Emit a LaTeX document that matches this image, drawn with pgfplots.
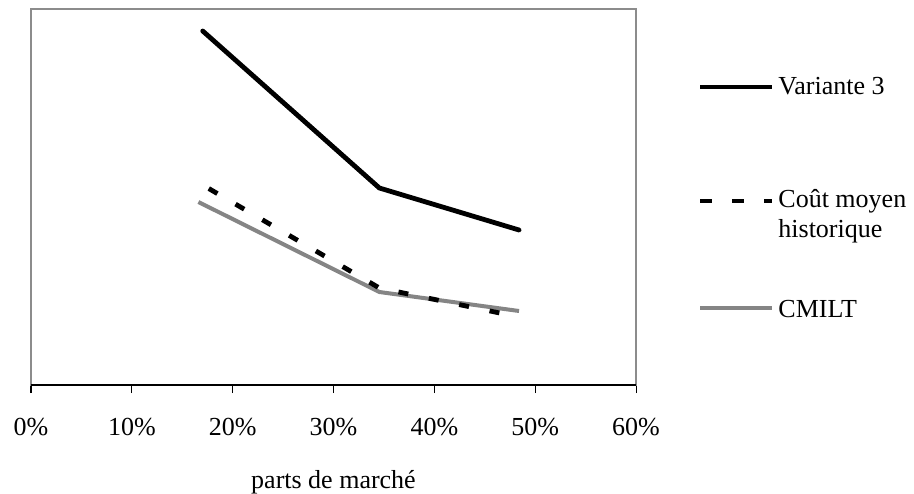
\documentclass[border=0pt]{standalone}
\usepackage{pgfplots}
\pgfplotsset{compat=1.18}
\usepackage{fontspec}
\setmainfont{Liberation Serif}
\definecolor{cmilt}{HTML}{858585}
\definecolor{boxgray}{HTML}{8C8C8C}
\begin{document}
\begin{tikzpicture}[font=\fontsize{13}{14.5}\selectfont]
\useasboundingbox (-15.5pt,-54pt) rectangle (441.5pt,192.5pt);
\begin{axis}[
  at={(0,0)}, anchor=south west,
  scale only axis, width=302.5pt, height=188pt,
  xmin=0, xmax=60, ymin=0, ymax=376,
  xtick={0,10,20,30,40,50,60},
  xticklabel={\pgfmathprintnumber{\tick}\%},
  /pgf/number format/assume math mode=true,
  ytick=\empty,
  xtick pos=bottom, tick align=outside,
  major tick length=4pt,
  tick style={black, line width=0.5pt},
  axis line style={boxgray, line width=0.6pt},
  xticklabel style={yshift=-9pt},
  xlabel={parts de marché},
  xlabel style={yshift=-10.5pt},
  clip=false,
]
\draw[black, line width=0.6pt] (rel axis cs:0,0) -- (rel axis cs:1,0);
\addplot[black, line width=2.4pt, line join=round, line cap=round] coordinates {(17.03,354) (34.55,197) (48.4,155)};
\addplot[cmilt, line width=2pt, line join=round] coordinates {(16.6,183) (34.55,93) (48.4,74)};
\addplot[black, line width=2.4pt, dash pattern=on 5pt off 10.5pt, dash phase=12pt] coordinates {(17.03,200) (34.55,97) (48.4,68)};
\end{axis}
% legend
\draw[black, line width=2.4pt] (334.5pt,149pt) -- (370.5pt,149pt);
\node[anchor=base west, inner sep=0pt] at (373.5pt,145pt) {Variante 3};
\draw[black, line width=2.4pt, dash pattern=on 6pt off 10pt] (334.5pt,92pt) -- (370.5pt,92pt);
\node[anchor=base west, inner sep=0pt] at (373.5pt,89pt) {Coût moyen};
\node[anchor=base west, inner sep=0pt] at (373.5pt,74pt) {historique};
\draw[cmilt, line width=2.4pt] (334.5pt,38.5pt) -- (370.5pt,38.5pt);
\node[anchor=base west, inner sep=0pt] at (373.5pt,34pt) {CMILT};
\end{tikzpicture}
\end{document}
